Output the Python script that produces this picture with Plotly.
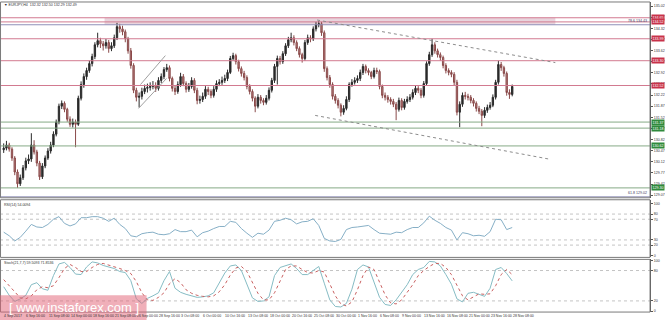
import plotly.graph_objects as go

W, H = 665, 321

# ---------------- data ----------------
header_text = "\u25bc EURJPY,H4  132.32 132.50 132.29 132.49"
rsi_label = "RSI(14) 54.0094"
stoch_label = "Stoch(21,7,7) 59.5093 71.8536"

date_labels = ["4 Sep 2017", "6 Sep 16:00", "11 Sep 08:00", "14 Sep 00:00", "18 Sep 16:00",
               "21 Sep 08:00", "26 Sep 00:00", "28 Sep 16:00", "3 Oct 08:00", "6 Oct 00:00",
               "10 Oct 16:00", "13 Oct 08:00", "18 Oct 00:00", "20 Oct 16:00", "25 Oct 08:00",
               "30 Oct 00:00", "1 Nov 16:00", "6 Nov 08:00", "9 Nov 00:00", "13 Nov 16:00",
               "16 Nov 08:00", "21 Nov 00:00", "23 Nov 16:00", "28 Nov 08:00"]

first_open = 130.50
close = [130.55, 130.65, 130.52, 130.24, 129.80, 129.43, 129.62, 129.93, 130.15, 130.21,
         130.65, 130.43, 130.08, 129.65, 129.99, 130.24, 130.46, 130.65, 130.99, 131.37,
         131.87, 131.96, 131.77, 131.46, 131.30, 131.37, 131.30, 132.12, 132.55, 132.80,
         132.99, 133.21, 133.43, 133.80, 133.93, 133.83, 133.77, 133.87, 133.68, 133.77,
         134.02, 134.37, 134.30, 134.21, 133.99, 133.61, 133.15, 132.37, 132.15, 132.18,
         132.33, 132.43, 132.46, 132.49, 132.52, 132.43, 132.68, 132.80, 133.02, 133.08,
         132.74, 132.43, 132.33, 132.55, 132.80, 132.58, 132.40, 132.49, 132.68, 132.37,
         132.05, 132.08, 132.18, 132.40, 132.33, 132.21, 132.40, 132.58, 132.62, 132.68,
         132.74, 132.93, 133.37, 133.46, 133.27, 133.05, 132.90, 132.77, 132.49, 132.33,
         132.12, 131.87, 132.15, 132.05, 131.99, 132.12, 132.37, 132.68, 133.12, 133.37,
         133.27, 133.52, 133.77, 133.96, 134.02, 133.87, 133.68, 133.49, 133.37, 133.87,
         134.02, 133.99, 134.30, 134.43, 134.46, 134.18, 133.05, 132.77, 132.55, 132.18,
         132.05, 131.90, 131.68, 131.80, 132.08, 132.55, 132.62, 132.68, 132.74, 132.93,
         133.12, 132.99, 132.93, 132.80, 132.99, 132.96, 132.49, 132.21, 132.15, 132.08,
         132.02, 131.93, 131.77, 132.05, 131.83, 132.02, 132.08, 132.15, 132.30, 132.43,
         132.37, 132.21, 132.58, 133.21, 133.49, 133.80, 133.61, 133.49, 133.40, 133.15,
         132.99, 132.93, 132.87, 132.62, 131.68, 131.93, 132.21, 132.18, 132.15, 132.05,
         131.96, 131.80, 131.71, 131.58, 131.74, 131.83, 131.90, 132.15, 132.62, 133.18,
         133.08, 132.90, 132.30, 132.24, 132.49]
high = [130.70, 130.78, 130.72, 130.58, 130.30, 129.88, 129.72, 130.02, 130.25, 130.35,
        131.02, 130.80, 130.50, 130.15, 130.08, 130.32, 130.55, 130.75, 131.08, 131.45,
        131.95, 132.05, 132.02, 131.82, 131.55, 131.48, 131.45, 132.20, 132.65, 132.90,
        133.08, 133.30, 133.52, 133.88, 134.18, 134.02, 133.92, 133.98, 133.95, 133.88,
        134.12, 134.49, 134.46, 134.40, 134.28, 134.05, 133.70, 133.22, 132.45, 132.30,
        132.45, 132.55, 132.58, 132.62, 132.66, 132.62, 132.78, 132.90, 133.10, 133.20,
        133.15, 132.80, 132.52, 132.65, 132.92, 132.88, 132.65, 132.60, 132.78, 132.75,
        132.45, 132.20, 132.30, 132.50, 132.48, 132.40, 132.50, 132.68, 132.72, 132.80,
        132.86, 133.02, 133.45, 133.55, 133.52, 133.33, 133.12, 132.98, 132.84, 132.56,
        132.40, 132.18, 132.25, 132.22, 132.12, 132.22, 132.46, 132.76, 133.20, 133.46,
        133.45, 133.60, 133.85, 134.05, 134.18, 134.10, 133.94, 133.75, 133.55, 133.95,
        134.12, 134.10, 134.38, 134.52, 134.55, 134.52, 134.25, 133.12, 132.85, 132.62,
        132.25, 132.12, 131.96, 131.90, 132.18, 132.62, 132.72, 132.78, 132.84, 133.02,
        133.20, 133.18, 133.06, 132.98, 133.08, 133.08, 133.02, 132.55, 132.30, 132.22,
        132.15, 132.10, 132.00, 132.14, 132.12, 132.10, 132.18, 132.25, 132.40, 132.52,
        132.50, 132.44, 132.66, 133.28, 133.58, 133.99, 133.88, 133.68, 133.56, 133.46,
        133.22, 133.06, 133.00, 132.94, 132.70, 132.02, 132.30, 132.32, 132.26, 132.22,
        132.12, 132.02, 131.88, 131.78, 131.84, 131.92, 132.00, 132.24, 132.70, 133.30,
        133.26, 133.14, 132.96, 132.40, 132.55]
low = [130.40, 130.48, 130.44, 130.15, 129.70, 129.30, 129.36, 129.55, 129.85, 130.05,
       130.12, 130.35, 129.98, 129.55, 129.58, 129.92, 130.18, 130.38, 130.58, 130.92,
       131.30, 131.78, 131.68, 131.38, 131.22, 131.20, 130.58, 131.25, 132.05, 132.45,
       132.70, 132.92, 133.12, 133.35, 133.72, 133.70, 133.62, 133.68, 133.55, 133.60,
       133.70, 133.95, 134.18, 134.10, 133.88, 133.52, 133.05, 132.28, 132.02, 131.83,
       132.08, 132.25, 132.30, 132.36, 132.40, 132.32, 132.36, 132.60, 132.72, 132.95,
       132.65, 132.33, 132.22, 132.26, 132.48, 132.50, 132.30, 132.32, 132.42, 132.28,
       131.93, 131.95, 132.00, 132.10, 132.22, 132.12, 132.14, 132.32, 132.50, 132.54,
       132.60, 132.66, 132.88, 133.30, 133.18, 132.96, 132.80, 132.68, 132.40, 132.24,
       132.02, 131.68, 131.80, 131.95, 131.90, 131.92, 132.05, 132.30, 132.60, 132.55,
       133.18, 133.20, 133.45, 133.70, 133.88, 133.78, 133.60, 133.40, 133.24, 133.30,
       133.80, 133.88, 133.92, 134.22, 134.35, 134.08, 132.95, 132.68, 132.45, 132.08,
       131.95, 131.80, 131.55, 131.60, 131.74, 132.00, 132.48, 132.55, 132.60, 132.66,
       132.85, 132.90, 132.84, 132.72, 132.74, 132.88, 132.40, 132.12, 132.05, 131.98,
       131.92, 131.84, 131.43, 131.70, 131.74, 131.76, 131.95, 132.00, 132.08, 132.22,
       132.28, 132.12, 132.14, 132.52, 133.14, 133.42, 133.52, 133.40, 133.30, 133.06,
       132.90, 132.84, 132.78, 132.52, 131.58, 131.21, 131.85, 132.08, 132.05, 131.96,
       131.86, 131.70, 131.62, 131.24, 131.50, 131.66, 131.76, 131.84, 132.08, 132.55,
       132.98, 132.80, 132.20, 132.10, 132.18]

# indicators sampled on every second candle
rsi = [45, 38, 28, 35, 47, 60, 55, 54, 60, 70, 75, 62, 57, 61, 73, 73, 75, 75, 72, 66,
       72, 60, 52, 38, 36, 42, 44, 45, 41, 40, 42, 50, 46, 46, 49, 36, 44, 47, 52, 56,
       56, 66, 64, 52, 43, 35, 43, 41, 49, 66, 68, 72, 69, 61, 65, 66, 71, 58, 33, 28,
       27, 31, 50, 54, 55, 56, 58, 50, 43, 42, 41, 45, 44, 50, 54, 54, 63, 76, 68, 62,
       54, 49, 30, 44, 42, 38, 39, 37, 46, 70, 69, 50, 54]
stoch_main = [48, 31, 19, 24, 31, 52, 56, 44, 41, 70, 93, 96, 86, 73, 72, 87, 97, 95, 90, 87,
              84, 78, 76, 60, 24, 15, 25, 30, 36, 60, 78, 45, 37, 33, 30, 27, 28, 30, 36, 56,
              75, 89, 91, 80, 52, 26, 19, 20, 28, 70, 86, 90, 93, 84, 72, 72, 80, 88, 55, 22,
              9, 8, 15, 43, 82, 91, 87, 59, 27, 13, 11, 22, 36, 52, 72, 82, 86, 98, 97, 89,
              72, 53, 24, 18, 35, 37, 33, 29, 45, 82, 86, 74, 59.5]
stoch_signal = [62, 50, 36, 26, 24, 30, 42, 48, 46, 50, 66, 84, 92, 86, 78, 78, 86, 92, 94, 91,
                88, 84, 80, 74, 58, 36, 22, 21, 27, 36, 54, 64, 56, 42, 35, 31, 29, 28, 30, 38,
                52, 71, 85, 88, 78, 56, 35, 22, 22, 36, 60, 82, 89, 89, 82, 76, 75, 80, 77, 55,
                30, 14, 10, 18, 42, 70, 87, 82, 58, 32, 16, 14, 22, 36, 52, 70, 80, 88, 94, 94,
                86, 72, 50, 30, 22, 28, 34, 33, 34, 50, 72, 82, 71.85]

# analyst levels and drawings (price units / candle index units)
red_levels = [134.65, 134.52, 133.99, 133.30, 132.52]
green_levels = [131.37, 131.18, 130.62, 129.30]
fib_levels = [("78.6 134.43", 134.43), ("61.8 129.02", 129.02)]
zone = dict(i0=36.5, i1=199.6, p0=134.43, p1=134.65)
trend_dashed = [((113.4, 134.58), (199.6, 133.24)), ((112.7, 131.58), (197.1, 130.21))]
trend_channel = [((48.8, 131.80), (58.9, 132.74)), ((49.5, 132.55), (58.5, 133.46))]
price_ticks_start, price_ticks_step = 129.07, 0.35

# ---------------- layout geometry ----------------
def py(px):
    return 1 - px / H

XR = [-1.335, 233.87]
XD = [0, 652 / W]
MAIN_D = [py(198), py(1)]
RSI_D = [py(258), py(200)]
ST_D = [py(313), py(260)]

n = len(close)
xi = list(range(n))
opens = [first_open] + close[:-1]
xi2 = [2 * k for k in range(len(rsi))]

fig = go.Figure()

def hline_trace(v, color, axis_x="x", axis_y="y", dash="solid", width=1):
    return go.Scatter(x=[XR[0], XR[1]], y=[v, v], mode="lines",
                      line=dict(color=color, width=width, dash=dash),
                      xaxis=axis_x, yaxis=axis_y, showlegend=False, hoverinfo="skip")

for v in red_levels:
    fig.add_trace(hline_trace(v, "#d27a90"))
for v in green_levels:
    fig.add_trace(hline_trace(v, "#86aa86"))
for _, v in fib_levels:
    fig.add_trace(hline_trace(v, "#9090b8"))
for v in [80, 70, 30, 20]:
    fig.add_trace(hline_trace(v, "#c4c4c4", "x2", "y2", "dot"))
for v in [80, 20]:
    fig.add_trace(hline_trace(v, "#c4c4c4", "x3", "y3", "dot"))

fig.add_trace(go.Candlestick(
    x=xi, open=opens, high=high, low=low, close=close,
    increasing=dict(line=dict(color="#2a2a2a", width=1), fillcolor="#2a2a2a"),
    decreasing=dict(line=dict(color="#8a4a4a", width=1), fillcolor="#b88080"),
    whiskerwidth=0, xaxis="x", yaxis="y", showlegend=False, hoverinfo="skip"))

fig.add_trace(go.Scatter(x=xi2, y=rsi, mode="lines", line=dict(color="#86afc6", width=1),
                         xaxis="x2", yaxis="y2", showlegend=False, hoverinfo="skip"))
fig.add_trace(go.Scatter(x=xi2, y=stoch_main, mode="lines", line=dict(color="#86bcc4", width=1),
                         xaxis="x3", yaxis="y3", showlegend=False, hoverinfo="skip"))
fig.add_trace(go.Scatter(x=xi2, y=stoch_signal, mode="lines",
                         line=dict(color="#c86060", width=1, dash="dot"),
                         xaxis="x3", yaxis="y3", showlegend=False, hoverinfo="skip"))

shapes = []
annotations = []
tickfont = dict(size=3.6, color="#333333", family="Arial")

shapes.append(dict(type="rect", xref="x", yref="y", x0=zone["i0"], x1=zone["i1"],
                   y0=zone["p0"], y1=zone["p1"], fillcolor="rgba(205,160,180,0.45)",
                   line=dict(width=0), layer="below"))
for v in red_levels:
    annotations.append(dict(xref="paper", yref="y", x=XD[1] + 0.001, y=v, text=f"{v:.2f}",
                            showarrow=False, xanchor="left", yanchor="middle",
                            font=dict(size=3.6, color="white", family="Arial"),
                            bgcolor="#c8324a", borderpad=0.6))
for v in green_levels:
    annotations.append(dict(xref="paper", yref="y", x=XD[1] + 0.001, y=v, text=f"{v:.2f}",
                            showarrow=False, xanchor="left", yanchor="middle",
                            font=dict(size=3.6, color="white", family="Arial"),
                            bgcolor="#2f8a3c", borderpad=0.6))
for txt, v in fib_levels:
    annotations.append(dict(xref="paper", yref="y", x=XD[1] - 0.002, y=v, text=txt,
                            showarrow=False, xanchor="right", yanchor="bottom",
                            font=dict(size=3.6, color="#404060", family="Arial")))
for (a, b) in trend_dashed:
    shapes.append(dict(type="line", xref="x", yref="y", x0=a[0], y0=a[1], x1=b[0], y1=b[1],
                       line=dict(color="#8c8c8c", width=1, dash="dot")))
for (a, b) in trend_channel:
    shapes.append(dict(type="line", xref="x", yref="y", x0=a[0], y0=a[1], x1=b[0], y1=b[1],
                       line=dict(color="#a0a0a0", width=1)))
for d in [MAIN_D, RSI_D, ST_D]:
    shapes.append(dict(type="rect", xref="paper", yref="paper", x0=0.0008, x1=XD[1],
                       y0=d[0], y1=d[1], line=dict(color="#7a7a7a", width=1)))

annotations.append(dict(xref="paper", yref="paper", x=0.003, y=py(4), text=header_text,
                        showarrow=False, xanchor="left", yanchor="middle",
                        font=dict(size=3.6, color="#333333", family="Arial")))
annotations.append(dict(xref="paper", yref="paper", x=0.003, y=py(205), text=rsi_label,
                        showarrow=False, xanchor="left", yanchor="middle",
                        font=dict(size=3.6, color="#333333", family="Arial")))
annotations.append(dict(xref="paper", yref="paper", x=0.003, y=py(264), text=stoch_label,
                        showarrow=False, xanchor="left", yanchor="middle",
                        font=dict(size=3.6, color="#333333", family="Arial")))
for m, lab in enumerate(date_labels):
    annotations.append(dict(xref="x3", yref="paper", x=8 * m - 0.5, y=py(317), text=lab,
                            showarrow=False, xanchor="left", yanchor="middle",
                            font=dict(size=3.5, color="#333333", family="Arial")))

shapes.append(dict(type="rect", xref="paper", yref="paper", x0=0, x1=147 / W,
                   y0=0, y1=py(296), fillcolor="rgba(225,95,115,0.5)",
                   line=dict(width=0), layer="above"))
annotations.append(dict(xref="paper", yref="paper", x=74 / W, y=py(308.5),
                        text="[ www.instaforex.com ]", showarrow=False,
                        xanchor="center", yanchor="middle",
                        font=dict(size=13, color="white", family="Liberation Sans")))

price_ticks = [round(price_ticks_start + k * price_ticks_step, 2) for k in range(18)]

axis_common = dict(showgrid=False, zeroline=False, showticklabels=False, range=XR,
                   domain=XD, fixedrange=True, showline=False, ticks="",
                   showspikes=False)
fig.update_layout(
    width=W, height=H, margin=dict(l=0, r=0, t=0, b=0),
    paper_bgcolor="white", plot_bgcolor="white", hovermode=False,
    xaxis=dict(**axis_common, anchor="y", rangeslider=dict(visible=False)),
    xaxis2=dict(**axis_common, anchor="y2"),
    xaxis3=dict(**axis_common, anchor="y3"),
    yaxis=dict(domain=MAIN_D, range=[128.99, 135.146], side="right", anchor="x",
               tickvals=price_ticks, ticktext=[f"{v:.2f}" for v in price_ticks],
               tickfont=tickfont, ticks="outside", ticklen=2, tickcolor="#555",
               showgrid=False, zeroline=False, showline=True, linecolor="#555",
               fixedrange=True),
    yaxis2=dict(domain=RSI_D, range=[-3.8, 107.7], side="right", anchor="x2",
                tickvals=[0, 20, 30, 70, 80, 100], tickfont=tickfont, ticks="outside",
                ticklen=2, tickcolor="#555", showgrid=False, zeroline=False,
                showline=True, linecolor="#555", fixedrange=True),
    yaxis3=dict(domain=ST_D, range=[-2, 102], side="right", anchor="x3",
                tickvals=[0, 20, 80, 100], tickfont=tickfont, ticks="outside",
                ticklen=2, tickcolor="#555", showgrid=False, zeroline=False,
                showline=True, linecolor="#555", fixedrange=True),
    shapes=shapes, annotations=annotations,
)

fig.write_html("out.html")
